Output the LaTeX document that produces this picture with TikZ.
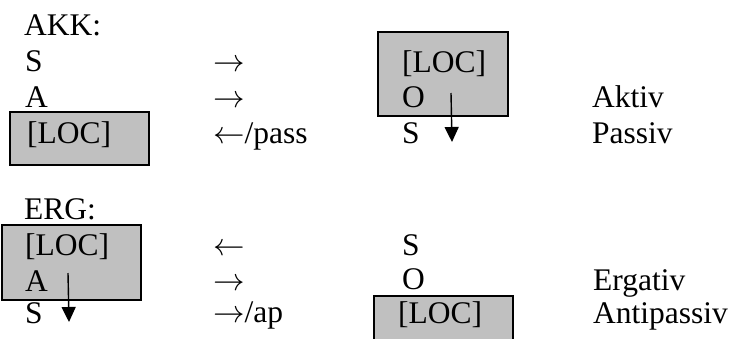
\documentclass[tikz,border=0pt]{standalone}
\usepackage{graphicx}
\usepackage{fontspec}
\setmainfont{Liberation Serif}
\usetikzlibrary{arrows.meta}
% arrow glyphs at the size of the surrounding text
\newcommand\ra{\scalebox{3.15}{\fontsize{10}{12}\selectfont$\rightarrow$}}
\newcommand\la{\scalebox{3.15}{\fontsize{10}{12}\selectfont$\leftarrow$}}
\begin{document}
\begin{tikzpicture}[x=1pt,y=-1pt,
  txt/.style={anchor=base west,inner sep=0pt,font=\fontsize{31.5}{36}\selectfont},
  locbox/.style={draw=black,fill=boxgray,line width=1.4pt,inner sep=0pt,rectangle},
  movearrow/.style={-{Triangle[length=15pt,width=14pt]},line width=1.4pt}]
\definecolor{boxgray}{HTML}{C0C0C0}
\clip (0,0) rectangle (730,338);

% --- accusative alignment ---
\node[locbox,minimum width=139pt,minimum height=53pt] (akkL) at (79.5,138.5) {};
\node[locbox,minimum width=130pt,minimum height=84pt] (akkR) at (443,74) {};

\node[txt] (akk)  at (24,35)  {AKK:};
\node[txt] (aS)   at (25,71)  {S};
\node[txt] (aA)   at (25,107) {A};
\node[txt] (aLoc) at (27,143) {[LOC]};

\node[txt] (aR1)  at (213,71)  {\ra};
\node[txt] (aR2)  at (213,107) {\ra};
\node[txt] (aR3)  at (213,143) {\la/pass};

\node[txt] (aLocR) at (402,72)  {[LOC]};
\node[txt] (aO)    at (402,107) {O};
\node[txt] (aSR)   at (402,143) {S};

\node[txt] (aktiv)  at (592,107) {Aktiv};
\node[txt] (passiv) at (592,143) {Passiv};

\coordinate (aFrom) at (451,93);
\coordinate (aTo)   at (452,142);
\draw[movearrow] (aFrom) -- (aTo);

% --- ergative alignment ---
\node[locbox,minimum width=139pt,minimum height=75pt] (ergL) at (71.5,262.5) {};
\node[locbox,minimum width=139pt,minimum height=80pt] (ergR) at (443.5,336) {};

\node[txt] (erg)  at (24,219) {ERG:};
\node[txt] (eLoc) at (25,255) {[LOC]};
\node[txt] (eA)   at (25,291) {A};
\node[txt] (eS)   at (25,323) {S};

\node[txt] (eR1)  at (213,255) {\la};
\node[txt] (eR2)  at (213,290) {\ra};
\node[txt] (eR3)  at (213,322) {\ra/ap};

\node[txt] (eSR)   at (402,255) {S};
\node[txt] (eO)    at (402,289) {O};
\node[txt] (eLocR) at (398,323) {[LOC]};

\node[txt] (ergativ)    at (593,290) {Ergativ};
\node[txt] (antipassiv) at (593,323) {Antipassiv};

\coordinate (eFrom) at (68,273);
\coordinate (eTo)   at (69,322);
\draw[movearrow] (eFrom) -- (eTo);
\end{tikzpicture}
\end{document}
